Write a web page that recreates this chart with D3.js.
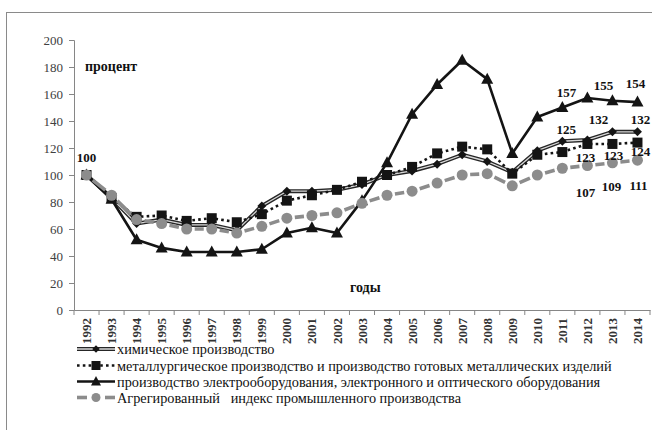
<!DOCTYPE html>
<html><head><meta charset="utf-8">
<script src="https://cdn.jsdelivr.net/npm/d3@7"></script>
<style>
html,body{margin:0;padding:0;background:#fff;}
svg{display:block;}
svg text{font-family:"Liberation Serif","Times New Roman",Tinos,"DejaVu Serif",serif !important;}
</style>
</head><body>
<svg id="chart" width="652" height="430"></svg>
<script>
const years = ["1992","1993","1994","1995","1996","1997","1998","1999","2000","2001","2002","2003","2004","2005","2006","2007","2008","2009","2010","2011","2012","2013","2014"];
const chemical = [100,83,64,67,63,63,59,77,88,88,89,93,100,103,108,115,110,102,118,125,126,132,132];
const metallurgy = [100,83,69,70,66,68,65,71,81,85,89,95,100,106,116,121,119,101,115,117,123,123,124];
const electro = [100,82,52,46,43,43,43,45,57,61,57,81,109,145,167,185,171,116,143,150,157,155,154];
const aggregate = [100,85,67,64,60,60,57,62,68,70,72,79,85,88,94,100,101,92,100,105,107,109,111];
const seriesNames = [
  "химическое производство",
  "металлургическое производство и производство готовых металлических изделий",
  "производство электрооборудования, электронного и оптического оборудования",
  "Агрегированный   индекс промышленного производства"
];
const yTicks = [0,20,40,60,80,100,120,140,160,180,200];
const yTitle = "процент";
const xTitle = "годы";
// data labels: series index, year, text
const labelSeries = [2,2,2,2,0,0,0,1,1,1,3,3,3];
const labelYears = ["1992","2012","2013","2014","2011","2013","2014","2012","2013","2014","2012","2013","2014"];
const labelTexts = ["100","157","155","154","125","132","132","123","123","124","107","109","111"];
// label offsets (layout, px)
const labelDX = [0,-21,-9,-2,4,-14,3,-2,1,3,-2,-1,1];
const labelDY = [-18,-6,-15,-19,-12,-12,-12,13,11,9,27,24,25];

const svg = d3.select("#chart");
// frame
svg.append("rect").attr("x",6.5).attr("y",12.5).attr("width",700).attr("height",440)
  .attr("fill","none").attr("stroke","#8a8a8a").attr("stroke-width",1);

const x = d3.scaleBand().domain(years).range([74,650]).padding(0);
const y = d3.scaleLinear().domain([0,200]).range([310,40]);
const cx = d => x(d) + x.bandwidth()/2;

// y axis
const yAxis = svg.append("g").attr("transform","translate(74,0)")
  .call(d3.axisLeft(y).tickValues(yTicks).tickSize(5).tickPadding(6));
yAxis.attr("font-family",null);
yAxis.select(".domain").attr("stroke","#868686");
yAxis.selectAll(".tick line").attr("stroke","#868686");
yAxis.selectAll(".tick text").attr("font-size",13).attr("fill","#404040");

// x axis
const xAxis = svg.append("g").attr("transform","translate(0,310)")
  .call(d3.axisBottom(x).tickSize(0).tickPadding(0));
xAxis.attr("font-family",null);
xAxis.select(".domain").attr("stroke","#868686");
xAxis.selectAll(".tick text")
  .attr("transform","rotate(-90)")
  .attr("x",-8).attr("y",0).attr("dy","0.35em")
  .attr("text-anchor","end")
  .attr("font-size",13).attr("font-weight","bold").attr("fill","#333");
// boundary tick marks
svg.append("g").selectAll("line").data(years.concat(["end"])).join("line")
  .attr("x1", d => d==="end" ? x.range()[1] : x(d))
  .attr("x2", d => d==="end" ? x.range()[1] : x(d))
  .attr("y1",310).attr("y2",315).attr("stroke","#868686");

// axis titles
svg.append("text").attr("x",85).attr("y",71).text(yTitle)
  .attr("font-size",14).attr("font-weight","bold").attr("fill","#111");
svg.append("text").attr("x",350).attr("y",292).text(xTitle)
  .attr("font-size",14).attr("font-weight","bold").attr("fill","#111");

const line = d3.line().x((d,i)=>cx(years[i])).y(d=>y(d));
const pts = arr => arr.map((v,i)=>({x:cx(years[i]), y:y(v)}));

const plot = svg.append("g");

// chemical: double line + diamonds
plot.append("path").attr("d",line(chemical)).attr("fill","none")
  .attr("stroke","#262626").attr("stroke-width",4).attr("stroke-linejoin","round");
plot.append("path").attr("d",line(chemical)).attr("fill","none")
  .attr("stroke","#d8d8d8").attr("stroke-width",1.3).attr("stroke-linejoin","round");
plot.append("g").selectAll("path").data(pts(chemical)).join("path")
  .attr("d", d3.symbol().type(d3.symbolSquare).size(40))
  .attr("transform", d=>`translate(${d.x},${d.y}) rotate(45)`)
  .attr("fill","#141414");

// metallurgy: dotted + squares
plot.append("path").attr("d",line(metallurgy)).attr("fill","none")
  .attr("stroke","#141414").attr("stroke-width",2.6).attr("stroke-dasharray","2.6,3.2");
plot.append("g").selectAll("rect").data(pts(metallurgy)).join("rect")
  .attr("x",d=>d.x-5).attr("y",d=>d.y-5).attr("width",10).attr("height",10)
  .attr("fill","#141414");

// electro: solid + triangles
plot.append("path").attr("d",line(electro)).attr("fill","none")
  .attr("stroke","#141414").attr("stroke-width",2.6).attr("stroke-linejoin","round");
plot.append("g").selectAll("path").data(pts(electro)).join("path")
  .attr("d","M0,-6.5L6,4.5L-6,4.5Z")
  .attr("transform",d=>`translate(${d.x},${d.y})`)
  .attr("fill","#141414");

// aggregate: long dash per segment + circles
const aggPts = pts(aggregate);
const segs = d3.pairs(aggPts);
const r = 5.5, gap = 2.5;
plot.append("g").selectAll("line").data(segs).join("line")
  .attr("x1",d=>d[0].x).attr("y1",d=>d[0].y).attr("x2",d=>d[1].x).attr("y2",d=>d[1].y)
  .attr("stroke","#8c8c8c").attr("stroke-width",3.6)
  .attr("stroke-dasharray",d=>{
    const L = Math.hypot(d[1].x-d[0].x, d[1].y-d[0].y);
    const g = r+gap; const dash = Math.max(L-2*g,0);
    return `0,${g},${dash},${L+20}`;
  });
plot.append("g").selectAll("circle").data(aggPts).join("circle")
  .attr("cx",d=>d.x).attr("cy",d=>d.y).attr("r",r).attr("fill","#8c8c8c");

// data labels
const allSeries = [chemical, metallurgy, electro, aggregate];
svg.append("g").selectAll("text").data(labelTexts.map((t,i)=>({t,i}))).join("text")
  .attr("x",d=>cx(labelYears[d.i]) + labelDX[d.i])
  .attr("y",d=>y(allSeries[labelSeries[d.i]][years.indexOf(labelYears[d.i])]) + labelDY[d.i])
  .attr("dy","0.35em").attr("text-anchor","middle")
  .attr("font-size",13).attr("font-weight","bold").attr("fill","#111")
  .text(d=>d.t);

// legend
const legY = [349,365.5,381.5,397.5];
const leg = svg.append("g");
seriesNames.forEach((name,i)=>{
  const g = leg.append("g").attr("transform",`translate(0,${legY[i]})`);
  const x1=77, x2=115, mx=96;
  if(i===0){
    g.append("line").attr("x1",x1).attr("x2",x2).attr("stroke","#262626").attr("stroke-width",4);
    g.append("line").attr("x1",x1).attr("x2",x2).attr("stroke","#d8d8d8").attr("stroke-width",1.3);
    g.append("path").attr("d",d3.symbol().type(d3.symbolSquare).size(28)).attr("transform",`translate(${mx},0) rotate(45)`).attr("fill","#141414");
  } else if(i===1){
    g.append("line").attr("x1",x1).attr("x2",x2).attr("stroke","#141414").attr("stroke-width",2.6).attr("stroke-dasharray","2.6,3.2");
    g.append("rect").attr("x",mx-4.5).attr("y",-4.5).attr("width",9).attr("height",9).attr("fill","#141414");
  } else if(i===2){
    g.append("line").attr("x1",x1).attr("x2",x2).attr("stroke","#141414").attr("stroke-width",2.6);
    g.append("path").attr("d","M0,-5.5L5,4L-5,4Z").attr("transform",`translate(${mx},0)`).attr("fill","#141414");
  } else {
    g.append("line").attr("x1",x1).attr("x2",x1+10).attr("stroke","#8c8c8c").attr("stroke-width",3.6);
    g.append("line").attr("x1",x2-10).attr("x2",x2).attr("stroke","#8c8c8c").attr("stroke-width",3.6);
    g.append("circle").attr("cx",mx).attr("r",4.5).attr("fill","#8c8c8c");
  }
  g.append("text").attr("x",117).attr("y",0).attr("dy","0.35em")
    .attr("font-size",14.3).attr("fill","#111").style("white-space","pre")
    .text(name);
});
</script>
</body></html>
